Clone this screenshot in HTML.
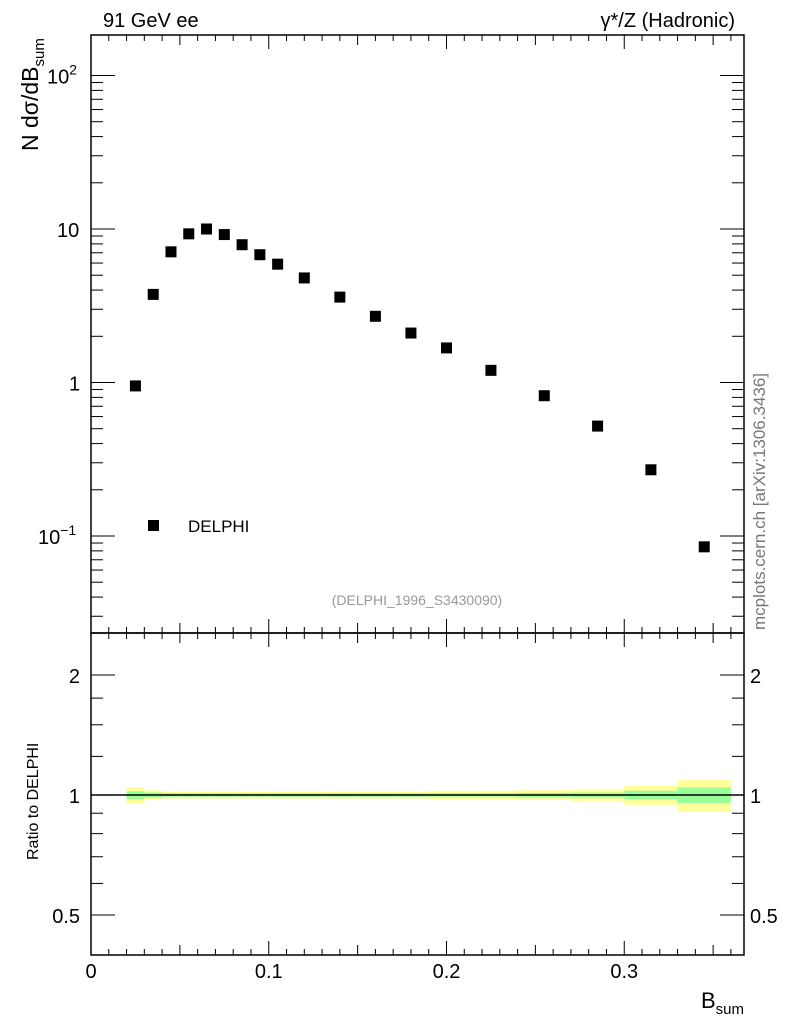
<!DOCTYPE html>
<html><head><meta charset="utf-8"><style>body{margin:0;background:#fff}svg{display:block;font-family:"Liberation Sans",sans-serif}</style></head>
<body>
<svg id="c" width="786" height="1024" viewBox="0 0 786 1024" xmlns="http://www.w3.org/2000/svg"></svg>
<script>
const binLo=[0.02,0.03,0.04,0.05,0.06,0.07,0.08,0.09,0.10,0.11,0.13,0.15,0.17,0.19,0.21,0.24,0.27,0.30,0.33];
const binHi=[0.03,0.04,0.05,0.06,0.07,0.08,0.09,0.10,0.11,0.13,0.15,0.17,0.19,0.21,0.24,0.27,0.30,0.33,0.36];
const values=[0.95,3.75,7.1,9.3,10.0,9.2,7.9,6.8,5.9,4.8,3.6,2.7,2.1,1.68,1.2,0.82,0.52,0.27,0.085];
const totErr=[0.045,0.027,0.02,0.02,0.02,0.02,0.02,0.02,0.02,0.02,0.02,0.02,0.02,0.025,0.025,0.028,0.033,0.055,0.09];
const statErr=[0.022,0.015,0.01,0.01,0.01,0.01,0.01,0.01,0.01,0.01,0.01,0.01,0.01,0.01,0.01,0.012,0.014,0.025,0.045];
const xTicks=[0,0.1,0.2,0.3];
const xTickLabels=["0","0.1","0.2","0.3"];
const svg=document.getElementById('c');
const NS='http://www.w3.org/2000/svg';
function el(t,a,p){const e=document.createElementNS(NS,t);for(const k in a)e.setAttribute(k,a[k]);(p||svg).appendChild(e);return e;}
const L=91,R=744,T=35,M=633,B=955;
const X=v=>L+v*1777.5;
const Y=v=>229-153.5*Math.log10(v/10);
const YR=v=>795-120*Math.log2(v);
let f1=el('rect',{x:L,y:T,width:R-L,height:M-T,fill:'none',stroke:'#000','stroke-width':1.5});

let f2=el('rect',{x:L,y:M,width:R-L,height:B-M,fill:'none',stroke:'#000','stroke-width':1.5});

for(let i=0;i<=36;i++){const v=i/100,x=X(v);const len=(i%10==0)?14:(i%5==0?10:6);
 for(const [y0,d] of [[T,1],[M,-1],[M,1],[B,-1]]){el('line',{x1:x,x2:x,y1:y0,y2:y0+d*len,stroke:'#000'});}}
xTicks.forEach((v,i)=>{const t=el('text',{x:X(v),y:978,'font-size':20,'text-anchor':'middle'});t.textContent=xTickLabels[i];
 });
for(let e=-2;e<=2;e++)for(let m=1;m<10;m++){const v=m*Math.pow(10,e);const y=Y(v);if(y<T||y>M)continue;const len=m==1?24:12;
 el('line',{x1:L,x2:L+len,y1:y,y2:y,stroke:'#000'});el('line',{x1:R,x2:R-len,y1:y,y2:y,stroke:'#000'});}
[[100,'10','2',47],[10,'10','',57],[1,'1','',69],[0.1,'10','−1',38]].forEach(([v,b,s,x0])=>{const t=el('text',{x:x0,y:Y(v)+8,'font-size':20});
 
 t.textContent=b;if(s){const u=el('tspan',{dy:-9,'font-size':14},t);u.textContent=s;}});
[0.5,0.6,0.7,0.8,0.9,1,1.25,1.5,1.75,2].forEach(v=>{const y=YR(v);const len=(v==0.5||v==1||v==2)?24:12;
 el('line',{x1:L,x2:L+len,y1:y,y2:y,stroke:'#000'});el('line',{x1:R,x2:R-len,y1:y,y2:y,stroke:'#000'});});
[[2,'2'],[1,'1'],[0.5,'0.5']].forEach(([v,s])=>{for(const [x,a] of [[80,'end'],[750,'start']]){const t=el('text',{x:x,y:YR(v)+8,'font-size':20,'text-anchor':a});t.textContent=s;
 }});
binLo.forEach((lo,i)=>{const x0=X(lo),w=X(binHi[i])-x0;
 const y=el('rect',{x:x0,y:YR(1+totErr[i]),width:w,height:YR(1-totErr[i])-YR(1+totErr[i]),fill:'#ffff99'});
 
 const g=el('rect',{x:x0,y:YR(1+statErr[i]),width:w,height:YR(1-statErr[i])-YR(1+statErr[i]),fill:'#99ff99'});
 });
el('line',{x1:L,x2:R,y1:YR(1),y2:YR(1),stroke:'#000','stroke-width':1.5});
binLo.forEach((lo,i)=>{const x=X((lo+binHi[i])/2),y=Y(values[i]);
 const p=el('rect',{x:x-5.5,y:y-5.5,width:11,height:11,fill:'#000'});
 });
let lm=el('rect',{x:148,y:520,width:11,height:11,fill:'#000'});
function txt(s,a,name){const t=el('text',a);t.textContent=s;return t;}
txt('DELPHI',{x:188,y:532,'font-size':17},'legend-label');
txt('(DELPHI_1996_S3430090)',{x:417,y:605,'font-size':14,fill:'#999','text-anchor':'middle'},'analysis-id');
txt('91 GeV ee',{x:103,y:27,'font-size':20},'title-left');
txt('γ*/Z (Hadronic)',{x:735,y:27,'font-size':20,'text-anchor':'end'},'title-right');
const yl=el('text',{transform:'translate(38,151) rotate(-90)','font-size':23});yl.textContent='N dσ/dB';

const ys=el('tspan',{dy:6,'font-size':15},yl);ys.textContent='sum';
txt('Ratio to DELPHI',{transform:'translate(38,860) rotate(-90)','font-size':16},'ratio-axis-title');
const xl=el('text',{x:744,y:1008,'font-size':22,'text-anchor':'end'});xl.textContent='B';

const xs=el('tspan',{dy:6,'font-size':15},xl);xs.textContent='sum';
txt('mcplots.cern.ch [arXiv:1306.3436]',{transform:'translate(765,630) rotate(-90)','font-size':17,fill:'#777'},'watermark');
</script>
</body></html>
